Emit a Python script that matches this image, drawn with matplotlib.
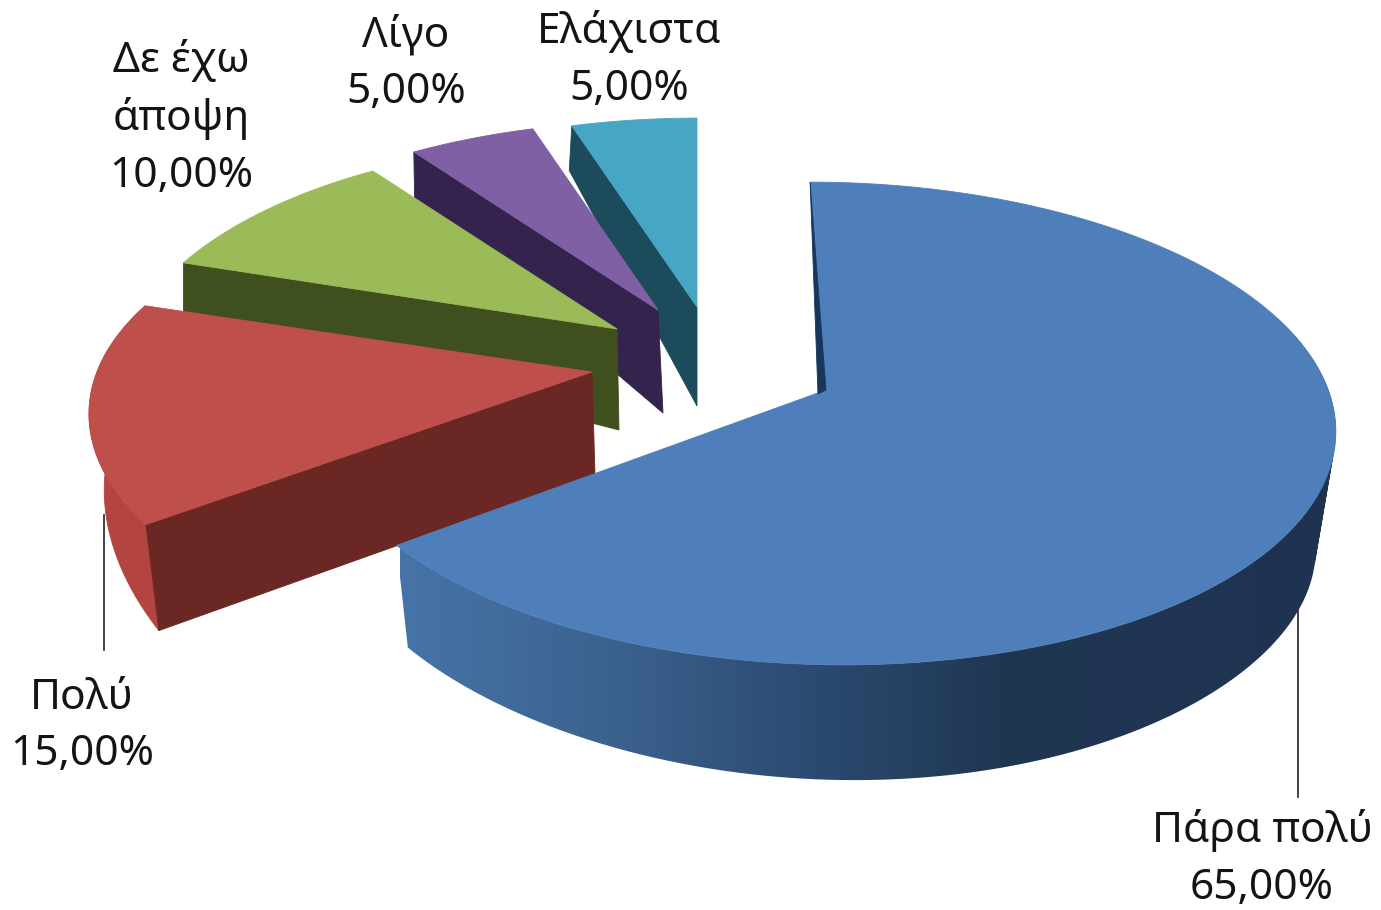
import numpy as np
import matplotlib
matplotlib.use('Agg')
import matplotlib.pyplot as plt
from matplotlib.colors import to_rgb, LinearSegmentedColormap
from matplotlib.patches import Polygon, PathPatch
from matplotlib.path import Path

categories = ['Πάρα πολύ', 'Πολύ', 'Δε έχω\nάποψη', 'Λίγο', 'Ελάχιστα']
values = [65, 15, 10, 5, 5]

top_colors = ['#4F7FBB', '#BE4F4B', '#9BBB59', '#8060A5', '#46A6C4']
face_colors = ['#17365D', '#6A2723', '#3F4F1E', '#33234D', '#1C4C5C']
rim_colors = ['#4674A8', '#B4443F', '#3F4F1E', '#33234D', '#1C4C5C']

# where each slice ended up after exploding it (pixels)
apex_top = [(826, 390), (592, 372), (617, 329), (658, 310), (697, 307)]
apex_bottom = [(818, 394), (595, 475), (619, 430), (663, 413), (697, 406)]
label_pos = [(1262, 859), (82, 726), (181, 118), (406, 64), (629, 60)]

FONT = ['Noto Sans', 'DejaVu Sans']

# cumulative angles, clockwise from 12 o'clock
edges = np.concatenate([[0], np.cumsum(values)]) * 360 / sum(values)


def disc(theta, rx, ry, kx, ky, a=0.0, shear=0.0, tilt=0.0):
    # perspective circle, v points towards the viewer
    t = np.radians(theta)
    u, v = np.sin(t), -np.cos(t)
    dx = rx * u / (1 - kx * v)
    dy = a + ry * v / (1 - ky * v)
    return dx + shear * dy, dy + tilt * dx


def shard_top(i, theta):
    # red sits nearer the viewer so it needs a bit more stretch
    if i == 1:
        dx, dy = disc(theta, 495, 228, 0.207, 0.207, shear=0.065)
    else:
        dx, dy = disc(theta, 485, 228, 0.207, 0.207)
    return apex_top[i][0] + dx, apex_top[i][1] + dy


def shard_bottom(i, theta):
    dx, dy = disc(theta, 483, 269, 0.177, 0.29, a=-35)
    return apex_bottom[i][0] + dx, apex_bottom[i][1] + dy


def blue_top(theta):
    dx, dy = disc(theta, 505, 238, 0.118, 0.118, shear=0.07)
    return 825 + dx, 395 + dy


def blue_bottom(theta):
    dx, dy = disc(theta, 488, 216, 0.118, 0.2, shear=0.07, tilt=0.015)
    return 822 + dx, 510 + dy


fig = plt.figure(figsize=(13.81, 9.10), dpi=100)
ax = fig.add_axes([0, 0, 1, 1])


def poly(xs, ys, color, z):
    ax.add_patch(Polygon(np.column_stack([xs, ys]), closed=True, facecolor=color,
                         edgecolor=color, linewidth=0.6, zorder=z))


# small back slices first, then red, blue goes on top of everything
for i in [4, 3, 2, 1]:
    start, end = edges[i], edges[i + 1]
    z = 10 + (4 - i) * 5
    th = np.linspace(start, end, 60)

    if i == 1:
        bx, by = shard_bottom(i, th)
        tx, ty = shard_top(i, th)
        poly(np.r_[tx, bx[::-1]], np.r_[ty, by[::-1]], rim_colors[i], z)

    # radial face on the start edge
    cx, cy = shard_top(i, start)
    dx, dy = shard_bottom(i, start)
    poly([apex_top[i][0], cx, dx, apex_bottom[i][0]],
         [apex_top[i][1], cy, dy, apex_bottom[i][1]], face_colors[i], z + 1)

    tx, ty = shard_top(i, th)
    poly(np.r_[apex_top[i][0], tx], np.r_[apex_top[i][1], ty], top_colors[i], z + 2)

# blue rim, gradient image clipped to the union of small quads
grad_x = [400, 600, 800, 1000, 1340]
grad_c = ['#4674A8', '#3C6390', '#2C4C73', '#203752', '#1F3350']
th = np.linspace(70, edges[1], 220)
tx, ty = blue_top(th)
bx, by = blue_bottom(th)
verts, codes = [], []
for j in range(len(th) - 1):
    quad = [(tx[j], ty[j]), (tx[j + 1], ty[j + 1]), (bx[j + 1], by[j + 1]), (bx[j], by[j])]
    # all quads wound the same way or the overlaps cancel out in the clip
    qx, qy = np.array(quad).T
    if np.dot(qx, np.roll(qy, -1)) - np.dot(qy, np.roll(qx, -1)) < 0:
        quad = quad[::-1]
    verts += quad + [quad[0]]
    codes += [Path.MOVETO, Path.LINETO, Path.LINETO, Path.LINETO, Path.CLOSEPOLY]
rim_path = PathPatch(Path(verts, codes), facecolor='none', edgecolor='none', transform=ax.transData)
ax.add_patch(rim_path)
cmap = LinearSegmentedColormap.from_list(
    'rim', [((x - grad_x[0]) / (grad_x[-1] - grad_x[0]), to_rgb(c)) for x, c in zip(grad_x, grad_c)])
img = ax.imshow(np.linspace(0, 1, 512)[None, :], cmap=cmap, aspect='auto',
                extent=(grad_x[0], grad_x[-1], 800, 300), zorder=40)
img.set_clip_path(rim_path)

th = np.linspace(0, edges[1], 300)
tx, ty = blue_top(th)
poly(np.r_[apex_top[0][0], tx], np.r_[apex_top[0][1], ty], top_colors[0], 42)

# thin dark sliver of the start face
sx, sy = blue_top(0)
poly([sx, apex_top[0][0], apex_bottom[0][0]], [sy, apex_top[0][1], apex_bottom[0][1]], face_colors[0], 43)

# leader lines
ax.plot([1298, 1298], [607, 797], color='#222222', lw=1.2, zorder=5)
ax.plot([104, 104], [515, 650], color='#222222', lw=1.2, zorder=5)

for name, val, (x, y) in zip(categories, values, label_pos):
    txt = name + '\n' + f'{val:.2f}'.replace('.', ',') + '%'
    ax.text(x, y, txt, ha='center', va='center', ma='center', fontsize=30.5,
            family=FONT, color='#141414', linespacing=1.46, zorder=60)

ax.set_xlim(0, 1381)
ax.set_ylim(910, 0)
ax.axis('off')

fig.savefig('out.png', dpi=100)
